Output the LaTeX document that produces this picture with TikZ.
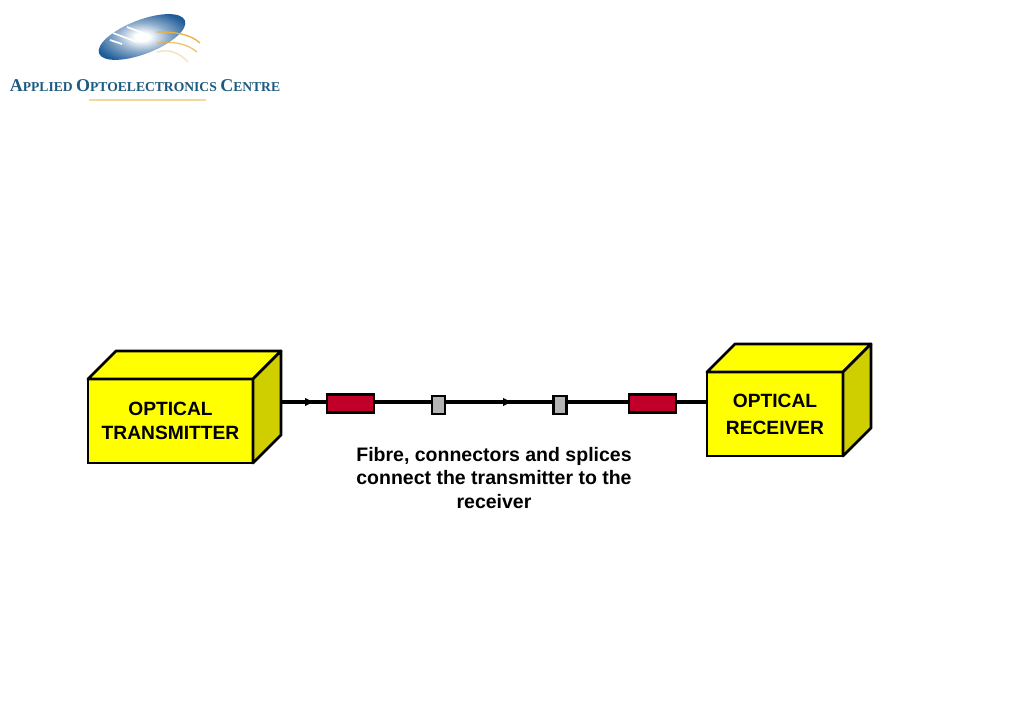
\documentclass[tikz,border=0pt]{standalone}
\usepackage{fontspec}
\setmainfont{Liberation Sans}
\newfontfamily\logofont{Liberation Serif}
\usetikzlibrary{arrows.meta,positioning,shapes.geometric}
\definecolor{boxyellow}{HTML}{FFFF00}
\definecolor{boxside}{HTML}{CFCF00}
\definecolor{patchred}{HTML}{C00028}
\definecolor{splicegray}{HTML}{B4B4B4}
\definecolor{logoblue}{HTML}{1F5C99}
\definecolor{logotext}{HTML}{1D5A80}
\definecolor{waveorange}{HTML}{E8B040}
\pgfdeclareradialshading{logoglow}{\pgfpointorigin}{
  color(0bp)=(white); color(4bp)=(white); color(14bp)=(logoblue!50); color(27bp)=(logoblue); color(50bp)=(logoblue!85!black)}
\begin{document}
\begin{tikzpicture}[x=1pt,y=-1pt,>={Stealth[length=8pt,width=8pt,inset=0pt]},
  font=\fontsize{19.5}{23.5}\selectfont\bfseries,
  front/.style={draw,line width=2.8pt,fill=boxyellow,minimum height=84pt,align=center,inner sep=0pt,outer sep=0pt,
    font=\fontsize{19.2}{23.5}\selectfont\bfseries},
  face/.style={draw,line width=2.8pt,line join=round},
  patch/.style={draw,line width=2.8pt,fill=patchred,minimum width=47pt,minimum height=18pt,inner sep=0pt,outer sep=0pt},
  splice/.style={draw,line width=2.8pt,fill=splicegray,minimum width=13pt,minimum height=18pt,inner sep=0pt,outer sep=0pt},
  fibre/.style={line width=3.2pt},
  tipline/.style={line width=.8pt,->},
  wave/.style={line width=1.3pt,waveorange}]
\useasboundingbox (0,0) rectangle (1023,722);
% logo
\node[ellipse,minimum width=92pt,minimum height=34pt,inner sep=0pt,rotate=21,shading=logoglow] (ball) at (142,37) {};
\draw[white,line width=1.6pt] (127,27) -- (143,33) (113,33) -- (137,42) (110,40) -- (122,44);
\draw[wave] (157,32) .. controls (176,32) and (190,34) .. (200,43);
\draw[wave,opacity=.75] (157,43) .. controls (172,41) and (186,43) .. (197,52);
\draw[wave,opacity=.4] (157,52) .. controls (168,49) and (179,52) .. (188,62);
\node[font=\logofont\bfseries\fontsize{13.6}{14}\selectfont,text=logotext,inner sep=0pt] (logoname) at (145,86)
  {{\fontsize{18}{18}\selectfont A}PPLIED {\fontsize{18}{18}\selectfont O}PTOELECTRONICS {\fontsize{18}{18}\selectfont C}ENTRE};
\coordinate (ruleL) at (89,100);
\coordinate (ruleR) at (206,100);
\draw[line width=1.2pt,waveorange!50] (ruleL) -- (ruleR);
% transmitter
\node[front,minimum width=165pt] (tx) at (170.5,421) {OPTICAL\\TRANSMITTER};
\draw[face,fill=boxyellow] (tx.north west) -- ++(28,-28) -- ++(165,0) -- (tx.north east) -- cycle;
\draw[face,fill=boxside] (tx.north east) -- ++(28,-28) -- ++(0,84) -- (tx.south east) -- cycle;
% receiver
\node[front,minimum width=136pt,font=\fontsize{19.2}{27}\selectfont\bfseries] (rx) at (775,414) {OPTICAL\\RECEIVER};
\draw[face,fill=boxyellow] (rx.north west) -- ++(28,-28) -- ++(136,0) -- (rx.north east) -- cycle;
\draw[face,fill=boxside] (rx.north east) -- ++(28,-28) -- ++(0,84) -- (rx.south east) -- cycle;
% fibre path
\coordinate (txout) at (281,402);
\coordinate (tip1) at (313,402);
\coordinate (tip2) at (511,402);
\node[patch] (pa) at (350.5,403.5) {};
\node[splice] (sa) at (438.5,405) {};
\node[splice] (sb) at (560,405) {};
\node[patch] (pb) at (652.5,403.5) {};
\draw[fibre] (txout) -- (pa.west|-txout);
\draw[fibre] (pa.east|-txout) -- (sa.west|-txout);
\draw[fibre] (sa.east|-txout) -- (sb.west|-txout);
\draw[fibre] (sb.east|-txout) -- (pb.west|-txout);
\draw[fibre] (pb.east|-txout) -- (rx.west|-txout);
\draw[tipline] (txout) -- (tip1);
\draw[tipline] (sa.east|-txout) -- (tip2);
% caption
\node[align=center,inner sep=0pt] (cap) at (494,478) {Fibre, connectors and splices\\connect the transmitter to the\\receiver};
\end{tikzpicture}
\end{document}
